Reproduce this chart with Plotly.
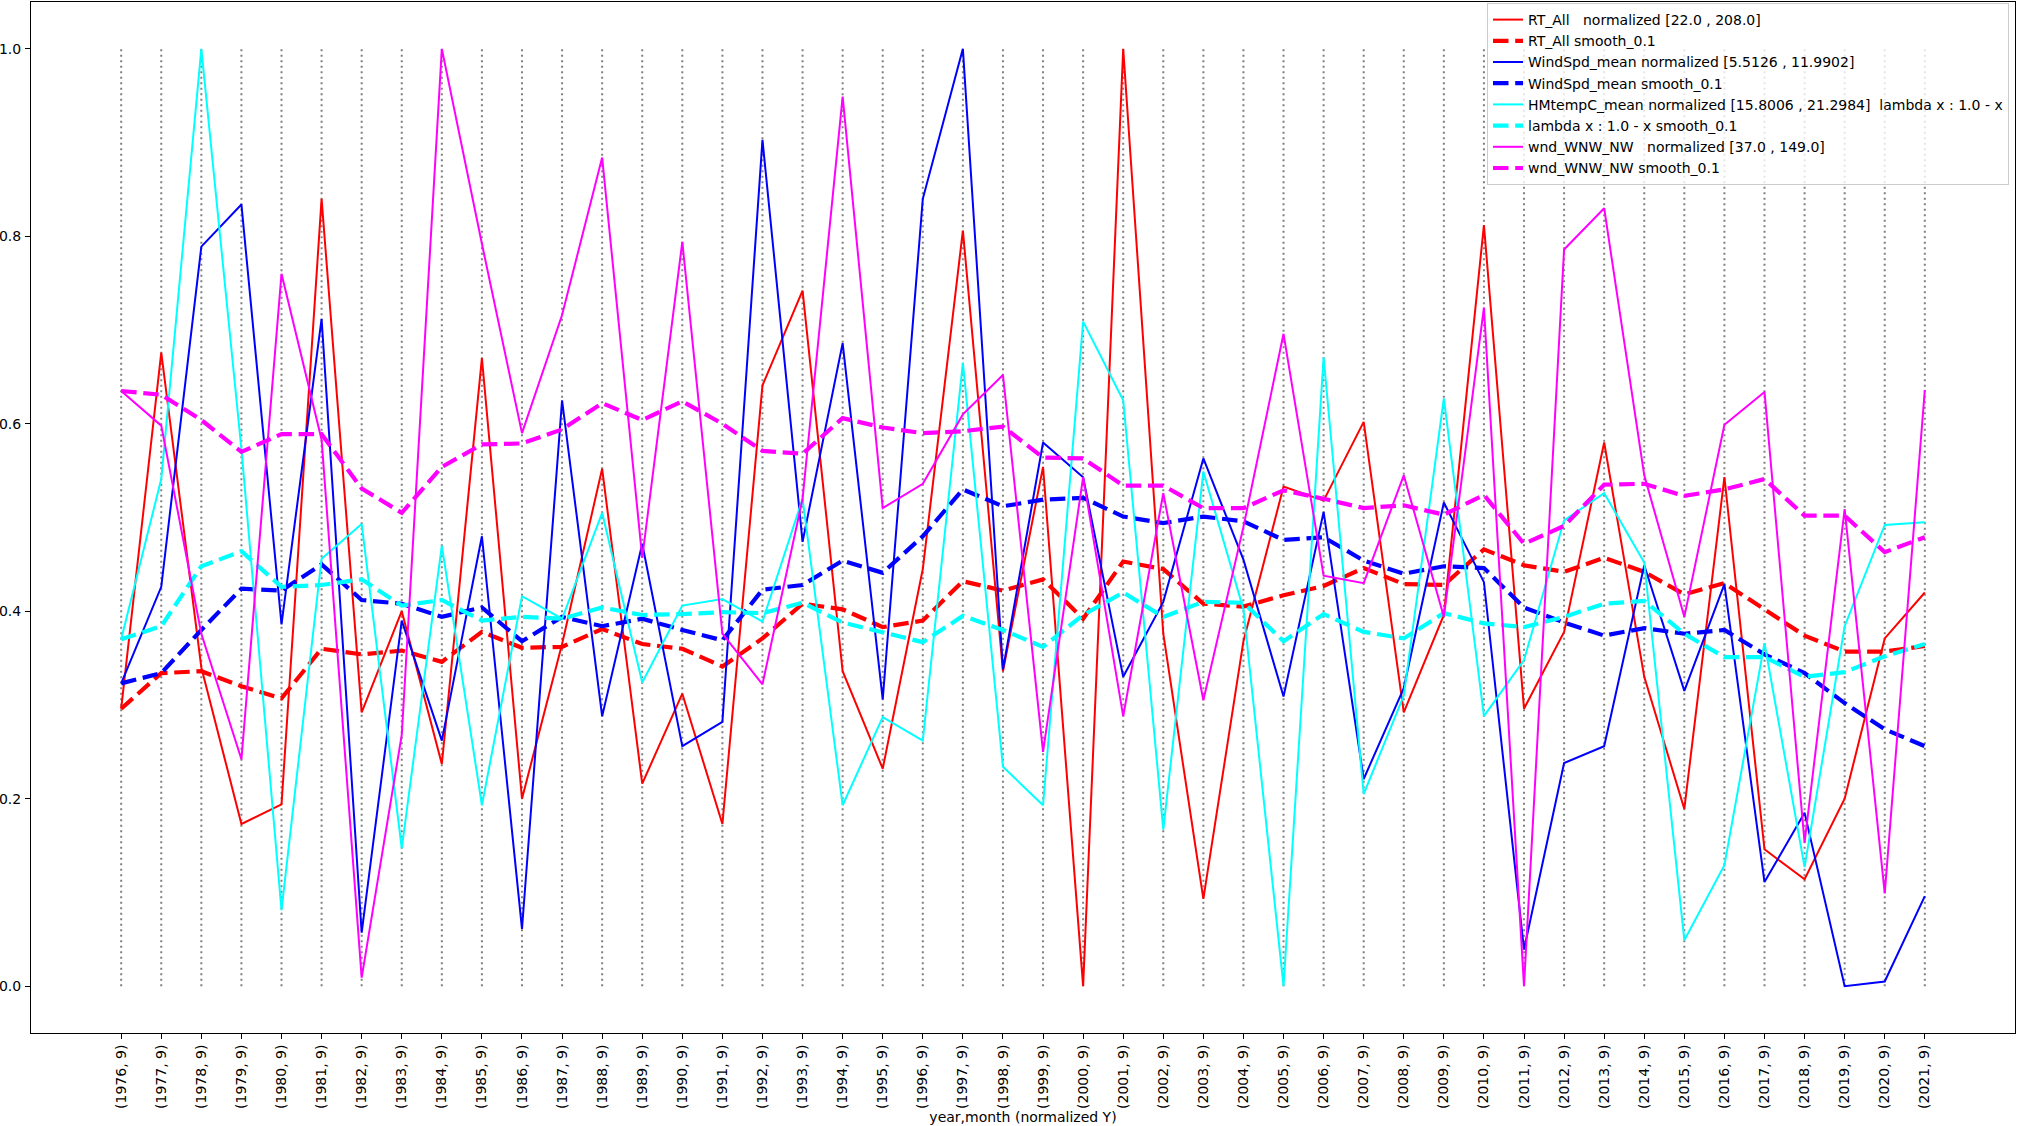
import plotly.graph_objects as go

tick_labels = ["(1976, 9)", "(1977, 9)", "(1978, 9)", "(1979, 9)", "(1980, 9)", "(1981, 9)",
               "(1982, 9)", "(1983, 9)", "(1984, 9)", "(1985, 9)", "(1986, 9)", "(1987, 9)",
               "(1988, 9)", "(1989, 9)", "(1990, 9)", "(1991, 9)", "(1992, 9)", "(1993, 9)",
               "(1994, 9)", "(1995, 9)", "(1996, 9)", "(1997, 9)", "(1998, 9)", "(1999, 9)",
               "(2000, 9)", "(2001, 9)", "(2002, 9)", "(2003, 9)", "(2004, 9)", "(2005, 9)",
               "(2006, 9)", "(2007, 9)", "(2008, 9)", "(2009, 9)", "(2010, 9)", "(2011, 9)",
               "(2012, 9)", "(2013, 9)", "(2014, 9)", "(2015, 9)", "(2016, 9)", "(2017, 9)",
               "(2018, 9)", "(2019, 9)", "(2020, 9)", "(2021, 9)"]

rt_all = [0.296, 0.676, 0.34, 0.173, 0.194, 0.84, 0.292, 0.40, 0.237, 0.670,
          0.20, 0.365, 0.552, 0.216, 0.312, 0.173, 0.641, 0.742, 0.336, 0.232,
          0.445, 0.806, 0.336, 0.554, 0.0, 1.0, 0.376, 0.093, 0.368, 0.533,
          0.518, 0.602, 0.292, 0.396, 0.812, 0.296, 0.378, 0.58, 0.33, 0.189,
          0.543, 0.146, 0.114, 0.2, 0.371, 0.42]
rt_all_smooth = [0.296, 0.334, 0.336, 0.32, 0.307, 0.36, 0.354, 0.358, 0.346, 0.378,
                 0.361, 0.362, 0.381, 0.365, 0.36, 0.341, 0.371, 0.408, 0.402, 0.383,
                 0.39, 0.432, 0.422, 0.434, 0.392, 0.453, 0.445, 0.408, 0.405, 0.417,
                 0.427, 0.446, 0.429, 0.428, 0.466, 0.449, 0.442, 0.457, 0.442, 0.418,
                 0.43, 0.402, 0.374, 0.357, 0.357, 0.363]

windspd = [0.323, 0.426, 0.789, 0.834, 0.386, 0.712, 0.057, 0.39, 0.262, 0.48,
           0.061, 0.625, 0.288, 0.472, 0.256, 0.282, 0.903, 0.474, 0.686, 0.306,
           0.84, 1.0, 0.338, 0.580, 0.543, 0.330, 0.41, 0.563, 0.455, 0.309,
           0.506, 0.221, 0.318, 0.516, 0.431, 0.039, 0.238, 0.256, 0.449, 0.315,
           0.429, 0.111, 0.185, 0.0, 0.005, 0.096]
windspd_smooth = [0.323, 0.334, 0.38, 0.424, 0.422, 0.45, 0.412, 0.408, 0.394, 0.404,
                  0.368, 0.394, 0.384, 0.392, 0.38, 0.369, 0.423, 0.428, 0.454, 0.441,
                  0.48, 0.530, 0.512, 0.519, 0.521, 0.501, 0.494, 0.501, 0.496, 0.476,
                  0.479, 0.454, 0.44, 0.448, 0.446, 0.404, 0.388, 0.374, 0.382, 0.376,
                  0.38, 0.354, 0.334, 0.302, 0.274, 0.256]

hmtemp = [0.370, 0.541, 1.0, 0.573, 0.081, 0.456, 0.493, 0.147, 0.47, 0.193,
          0.416, 0.392, 0.505, 0.324, 0.406, 0.413, 0.389, 0.52, 0.193, 0.287,
          0.262, 0.665, 0.234, 0.193, 0.709, 0.625, 0.167, 0.549, 0.402, 0.0,
          0.671, 0.205, 0.31, 0.627, 0.288, 0.348, 0.497, 0.526, 0.452, 0.049,
          0.129, 0.366, 0.127, 0.384, 0.492, 0.495]
hmtemp_smooth = [0.37, 0.384, 0.448, 0.464, 0.426, 0.428, 0.434, 0.406, 0.412, 0.39,
                 0.394, 0.392, 0.404, 0.396, 0.397, 0.399, 0.398, 0.409, 0.388, 0.378,
                 0.367, 0.395, 0.38, 0.362, 0.396, 0.42, 0.394, 0.41, 0.409, 0.368,
                 0.397, 0.378, 0.371, 0.398, 0.387, 0.383, 0.394, 0.408, 0.411, 0.376,
                 0.351, 0.351, 0.33, 0.335, 0.352, 0.365]

wnd = [0.635, 0.598, 0.376, 0.242, 0.76, 0.583, 0.009, 0.268, 1.0, 0.792,
       0.590, 0.716, 0.884, 0.457, 0.794, 0.376, 0.322, 0.52, 0.949, 0.51,
       0.536, 0.61, 0.652, 0.25, 0.543, 0.288, 0.526, 0.305, 0.49, 0.696,
       0.438, 0.43, 0.545, 0.394, 0.724, 0.0, 0.786, 0.830, 0.545, 0.394,
       0.599, 0.634, 0.153, 0.509, 0.099, 0.636]
wnd_smooth = [0.635, 0.631, 0.604, 0.570, 0.589, 0.589, 0.531, 0.505, 0.554, 0.578,
              0.579, 0.594, 0.622, 0.604, 0.624, 0.6, 0.571, 0.568, 0.606, 0.596,
              0.59, 0.592, 0.597, 0.564, 0.563, 0.534, 0.534, 0.51, 0.51, 0.529,
              0.52, 0.51, 0.513, 0.503, 0.524, 0.472, 0.491, 0.535, 0.536, 0.523,
              0.53, 0.541, 0.502, 0.502, 0.463, 0.479]

NB = "\u00a0"
names = [
    "RT_All" + NB * 3 + "normalized [22.0 , 208.0]",
    "RT_All smooth_0.1",
    "WindSpd_mean normalized [5.5126 , 11.9902]",
    "WindSpd_mean smooth_0.1",
    "HMtempC_mean normalized [15.8006 , 21.2984]" + NB * 2 + "lambda x : 1.0 - x",
    "lambda x : 1.0 - x smooth_0.1",
    "wnd_WNW_NW" + NB * 3 + "normalized [37.0 , 149.0]",
    "wnd_WNW_NW smooth_0.1",
]
series = [rt_all, rt_all_smooth, windspd, windspd_smooth, hmtemp, hmtemp_smooth, wnd, wnd_smooth]
colors = ["#ff0000", "#ff0000", "#0000ff", "#0000ff", "#00ffff", "#00ffff", "#ff00ff", "#ff00ff"]

fig = go.Figure()

# vertical dotted guide lines at each category, from 0 to 1
vx, vy = [], []
for lab in tick_labels:
    vx += [lab, lab, None]
    vy += [0, 1, None]
fig.add_trace(go.Scatter(x=vx, y=vy, mode="lines", showlegend=False, hoverinfo="skip",
                         line=dict(color="#808080", width=2, dash="2px,3.5px")))

for i, (nm, vals, col) in enumerate(zip(names, series, colors)):
    smooth = i % 2 == 1
    fig.add_trace(go.Scatter(
        x=tick_labels, y=vals, mode="lines", name=nm,
        line=dict(color=col, width=4.2 if smooth else 2.0,
                  dash="15.5px,6.7px" if smooth else "solid"),
    ))

W, H = 2017, 1126
ml, mr, mt, mb = 31, 2, 2, 93
fig.update_layout(
    width=W, height=H,
    margin=dict(l=ml, r=mr, t=mt, b=mb, pad=0),
    paper_bgcolor="white", plot_bgcolor="white",
    font=dict(family="DejaVu Sans", size=14, color="black"),
    showlegend=True,
    legend=dict(
        x=(2009 - ml) / (W - ml - mr), xanchor="right",
        y=1 - (3 - mt) / (H - mt - mb), yanchor="top",
        bgcolor="rgba(255,255,255,0.8)", bordercolor="#cccccc", borderwidth=1,
        font=dict(family="DejaVu Sans", size=14, color="black"),
        tracegroupgap=0, itemwidth=30,
    ),
    xaxis=dict(
        type="category", categoryorder="array", categoryarray=tick_labels,
        range=[-2.25, 47.25],
        tickmode="array", tickvals=tick_labels, ticktext=tick_labels,
        tickangle=-90, ticks="outside", ticklen=5, tickwidth=1, tickcolor="black",
        showgrid=False, zeroline=False,
        showline=True, linecolor="black", linewidth=1, mirror=True,
        title=dict(text="year,month (normalized Y)", standoff=2,
                   font=dict(family="DejaVu Sans", size=14, color="black")),
        automargin=False,
        tickfont=dict(family="DejaVu Sans", size=14, color="black"),
    ),
    yaxis=dict(
        range=[-0.05, 1.05],
        tickmode="array", tickvals=[0, 0.2, 0.4, 0.6, 0.8, 1.0],
        ticktext=["0.0", "0.2", "0.4", "0.6", "0.8", "1.0"],
        ticks="outside", ticklen=5, tickwidth=1, tickcolor="black",
        ticklabelstandoff=1,
        showgrid=False, zeroline=False,
        showline=True, linecolor="black", linewidth=1, mirror=True,
        automargin=False,
        tickfont=dict(family="DejaVu Sans", size=14, color="black"),
    ),
)

fig.write_html("out.html", config={"displayModeBar": False},
               post_script="document.body.style.margin='0';document.body.style.overflow='hidden';")
